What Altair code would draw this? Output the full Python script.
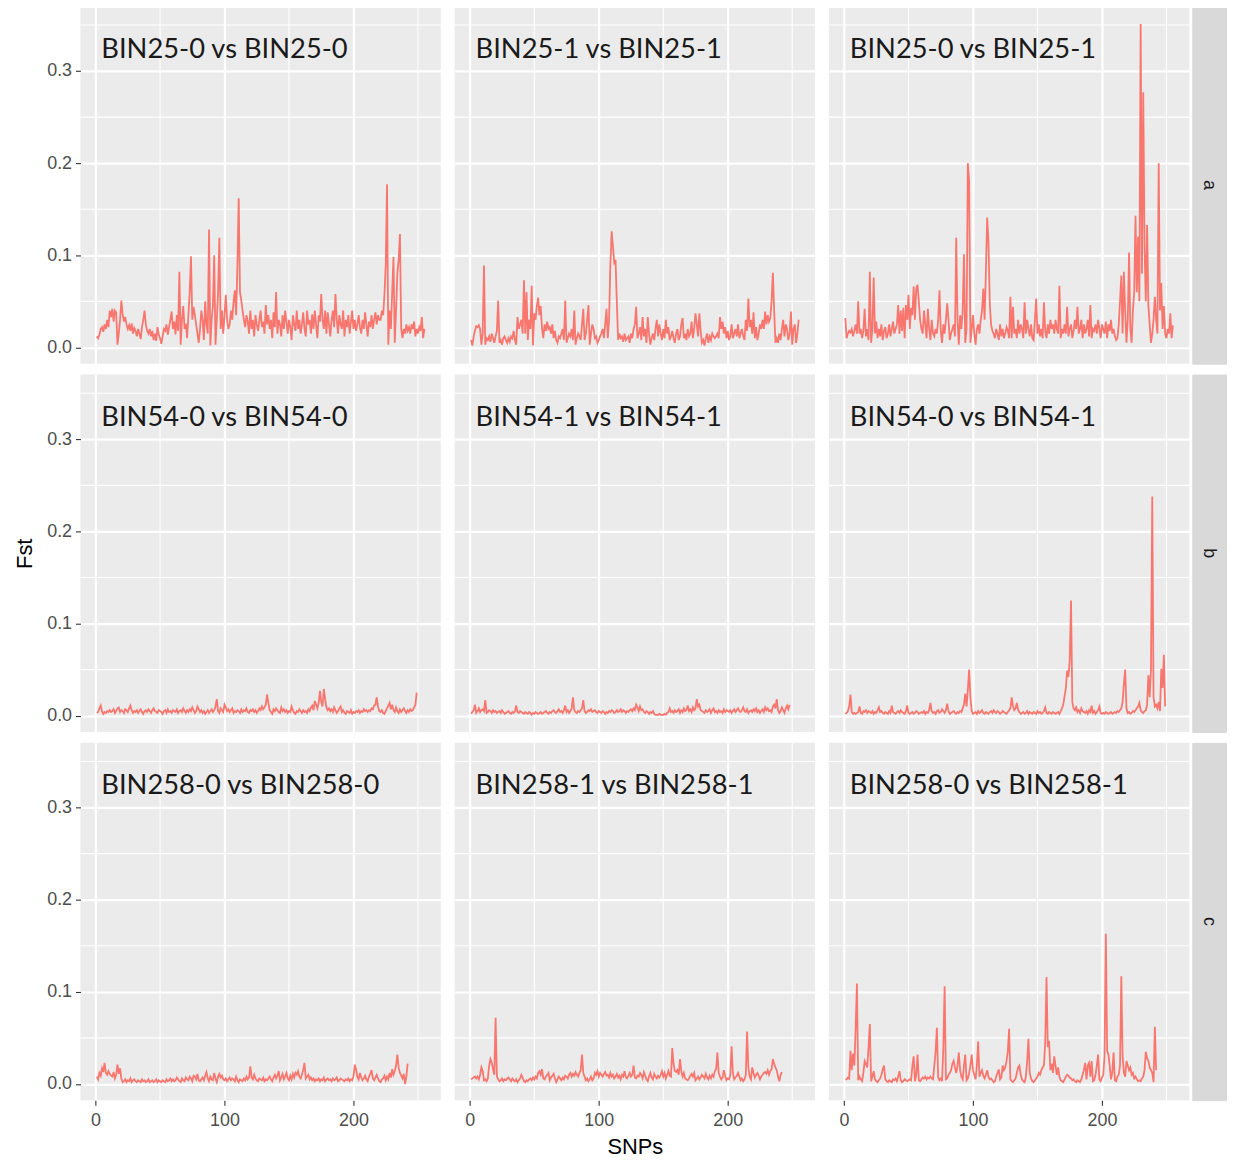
import altair as alt
import pandas as pd

# ---------------- data (Fst values, in thousandths) ----------------
row_labels = ["a", "b", "c"]
panel_titles = [
    ["BIN25-0 vs BIN25-0", "BIN25-1 vs BIN25-1", "BIN25-0 vs BIN25-1"],
    ["BIN54-0 vs BIN54-0", "BIN54-1 vs BIN54-1", "BIN54-0 vs BIN54-1"],
    ["BIN258-0 vs BIN258-0", "BIN258-1 vs BIN258-1", "BIN258-0 vs BIN258-1"],
]

fst_a1 = [
    12, 10, 14, 20, 22, 17, 25, 20, 30, 22,
    40, 33, 42, 28, 40, 38, 3, 15, 30, 51,
    36, 28, 33, 25, 20, 24, 18, 26, 15, 21,
    18, 12, 20, 15, 9, 22, 30, 40, 25, 18,
    15, 20, 12, 18, 8, 15, 7, 22, 14, 10,
    4, 12, 20, 18, 25, 14, 22, 30, 39, 20,
    28, 14, 35, 18, 82, 3, 30, 45, 20, 26,
    10, 35, 60, 99, 30, 44, 35, 25, 15, 5,
    20, 40, 30, 8, 50, 25, 15,
    128, 2, 30, 45, 100, 3, 30, 60, 119, 20, 40, 15, 35,
    57, 30, 20, 25, 40, 30, 50, 62, 35, 90, 162, 60, 51, 40, 30,
    22, 35, 28, 15, 40, 20, 30, 12, 35, 25, 18, 30, 40, 22, 28,
    15, 46, 25, 35, 20, 30, 10, 38, 22, 60, 15, 30, 25, 12, 35,
    20, 40, 28, 15, 30, 22, 8, 35, 25, 18, 40, 20, 30, 15, 25,
    38, 20, 12, 40, 25, 30, 15, 36, 20, 40, 25, 10, 35, 28, 58,
    30, 20, 40, 15, 38, 25, 12, 30, 40, 22, 58, 30, 15, 35, 25,
    20, 40, 12, 30, 22, 35, 15, 28, 40, 20, 30, 18, 25, 35, 22,
    15, 30, 20, 38, 25, 12, 28, 22, 35, 20, 30, 38, 25, 35, 30,
    30, 40, 35, 57, 90, 177, 3, 40, 20, 60, 98, 5, 40, 80, 95, 123, 20, 10, 20, 15,
    25, 18, 22, 15, 25, 20, 28, 12, 20, 15, 22, 18, 33, 10, 20,
]

fst_a2 = [
    8, 2, 12, 18, 23, 22, 24, 20, 3, 15,
    89, 3, 10, 8, 12, 6, 15, 10, 5, 12,
    18, 51, 5, 8, 3, 10, 12, 8, 5, 10,
    6, 12, 10, 18, 8, 3, 33, 20, 25, 30,
    15, 73, 15, 60, 8, 30, 20, 67, 2, 37,
    30, 45, 54, 35, 45, 20, 10, 25, 18, 28,
    20, 22, 15, 25, 10, 18, 8, 5, 12, 10,
    15, 20, 8, 51, 5, 10, 15, 12, 20, 8,
    40, 3, 10, 15, 12, 8, 25, 42, 8, 15,
    30, 46, 3, 15, 25, 20, 10, 12, 5, 8,
    12, 15, 20, 10, 25, 42, 10, 30, 90, 126,
    110, 92, 95, 50, 8, 15, 10, 12, 6, 15,
    8, 10, 12, 5, 15, 10, 20, 25, 44, 10,
    15, 22, 8, 33, 12, 20, 5, 33, 15, 3,
    10, 15, 8, 20, 30, 12, 25, 15, 8, 20,
    10, 30, 15, 22, 8, 12, 18, 10, 5, 15,
    20, 8, 12, 25, 32, 10, 15, 8, 20, 12,
    15, 28, 10, 20, 37, 25, 12, 37, 18, 5,
    8, 2, 10, 15, 5, 12, 8, 15, 12, 10,
    12, 15, 10, 33, 20, 28, 15, 22, 10, 18,
    8, 12, 25, 10, 15, 20, 12, 25, 10, 15,
    20, 12, 8, 30, 18, 53, 22, 30, 15, 38,
    10, 22, 8, 15, 25, 20, 30, 20, 39, 25,
    35, 28, 32, 50, 81, 40, 5, 10, 5, 15,
    8, 20, 30, 12, 25, 20, 8, 15, 39, 3,
    20, 25, 5, 15, 30,
]

fst_a3 = [
    32, 10, 15, 18, 16, 20, 12, 18, 25, 15,
    50, 15, 20, 10, 18, 42, 12, 20, 8, 82,
    5, 20, 76, 15, 28, 10, 20, 12, 25, 8,
    18, 22, 10, 15, 25, 12, 20, 28, 15, 20,
    25, 46, 15, 40, 18, 43, 10, 46, 30, 57,
    20, 43, 35, 66, 30, 64, 68, 50, 30, 20,
    15, 40, 25, 10, 42, 20, 8, 30, 15, 12,
    20, 15, 30, 62, 18, 5, 25, 15, 30, 48,
    30, 8, 15, 20, 25, 12, 119, 30, 3, 35,
    20, 40, 101, 5, 20, 200, 180, 5, 20, 35,
    15, 3, 20, 25, 15, 30, 40, 64, 30, 82,
    141, 115, 49, 25, 18, 15, 10, 20, 15, 8,
    25, 12, 20, 10, 15, 22, 18, 10, 55, 10,
    44, 15, 20, 10, 30, 15, 25, 20, 10, 49,
    15, 30, 20, 12, 25, 10, 8, 30, 53, 15,
    25, 12, 20, 10, 49, 18, 10, 25, 15, 30,
    20, 25, 15, 30, 20, 15, 67, 10, 20, 15,
    25, 15, 44, 12, 20, 25, 10, 18, 30, 20,
    44, 15, 20, 30, 10, 25, 15, 20, 30, 12,
    46, 10, 20, 18, 25, 15, 30, 20, 10, 25,
    20, 15, 28, 10, 25, 18, 30, 15, 20, 12,
    8, 10, 25, 50, 78, 15, 82, 40, 5, 30,
    103, 20, 5, 40, 60, 143, 60, 120, 50, 351,
    80, 277, 110, 50, 133, 45, 25, 5, 15, 30,
    55, 30, 15, 200, 40, 70, 20, 45, 15, 10,
    20, 15, 37, 10, 24,
]

fst_b1 = [
    3, 4, 8, 11, 5, 2, 4, 3, 5, 4,
    6, 4, 5, 7, 3, 5, 8, 9, 4, 6,
    5, 3, 7, 6, 4, 8, 11, 6, 3, 5,
    4, 6, 3, 5, 7, 4, 2, 5, 6, 4,
    7, 5, 3, 6, 8, 5, 4, 3, 6, 5,
    4, 2, 5, 6, 3, 7, 4, 5, 3, 6,
    5, 4, 7, 3, 5, 6, 4, 8, 5, 3,
    6, 4, 7, 5, 9, 6, 3, 5, 10, 7,
    4, 6, 3, 5, 2, 4, 6, 3, 5, 7,
    4, 6, 10, 18, 5, 3, 8, 6, 4, 12,
    9, 5, 7, 4, 6, 8, 3, 5, 4, 6,
    5, 3, 7, 4, 6, 5, 8, 4, 3, 6,
    5, 7, 4, 6, 3, 5, 8, 6, 10, 7,
    9, 12, 23, 14, 6, 4, 2, 7, 5, 8,
    6, 4, 3, 9, 5, 7, 4, 6, 3, 5,
    4, 10, 6, 3, 2, 5, 4, 7, 5, 3,
    6, 4, 5, 3, 7, 5, 9, 11, 6, 16,
    12, 8, 14, 27, 15, 10, 29, 18, 9, 6,
    8, 5, 7, 4, 9, 6, 3, 5, 8, 10,
    4, 6, 3, 2, 5, 4, 3, 6, 2, 4,
    3, 5, 4, 6, 3, 5, 4, 7, 5, 6,
    4, 6, 5, 8, 7, 11, 12, 20, 10, 5,
    4, 6, 3, 2, 5, 8, 11, 14, 7, 12,
    6, 4, 9, 5, 3, 7, 4, 6, 8, 5,
    3, 6, 4, 7, 5, 6, 9, 12, 25,
]

fst_b2 = [
    2, 4, 6, 12, 3, 5, 8, 4, 6, 7,
    5, 17, 3, 4, 6, 5, 3, 6, 4, 5,
    3, 4, 5, 3, 6, 4, 2, 3, 4, 5,
    3, 2, 4, 3, 5, 11, 4, 3, 5, 4,
    3, 2, 4, 3, 2, 4, 3, 1, 3, 2,
    4, 3, 2, 3, 4, 2, 3, 4, 5, 3,
    2, 4, 3, 5, 6, 4, 3, 5, 7, 4,
    5, 3, 6, 11, 4, 6, 3, 5, 8, 20,
    6, 4, 3, 5, 4, 6, 8, 17, 5, 3,
    4, 6, 5, 7, 4, 5, 6, 4, 3, 5,
    4, 3, 5, 4, 2, 4, 3, 5, 4, 6,
    5, 3, 4, 6, 4, 5, 7, 4, 6, 5,
    3, 5, 4, 6, 7, 5, 8, 6, 12, 9,
    5, 10, 6, 7, 4, 3, 5, 4, 2, 4,
    3, 5, 2, 1, 1, 1, 2, 1, 1, 1,
    2, 1, 3, 4, 8, 4, 5, 3, 6, 4,
    5, 7, 3, 6, 4, 8, 5, 6, 11, 5,
    7, 4, 9, 6, 8, 18, 10, 12, 6, 5,
    4, 3, 6, 4, 5, 7, 3, 6, 8, 4,
    5, 3, 6, 4, 5, 3, 7, 4, 6, 5,
    4, 6, 3, 5, 7, 4, 6, 8, 5, 4,
    6, 9, 5, 4, 7, 3, 5, 6, 4, 7,
    5, 8, 4, 6, 3, 5, 7, 4, 9, 6,
    8, 5, 6, 4, 10, 12, 8, 18, 6, 3,
    5, 9, 6, 3, 8, 11, 7, 12,
]

fst_b3 = [
    2, 3, 5, 10, 23, 4, 2, 3, 2, 3,
    4, 10, 3, 2, 5, 4, 6, 3, 5, 4,
    3, 5, 2, 4, 3, 6, 9, 4, 5, 3,
    2, 4, 3, 2, 5, 3, 11, 4, 3, 2,
    4, 5, 3, 6, 4, 3, 2, 5, 11, 3,
    2, 3, 4, 2, 3, 5, 4, 2, 3, 4,
    3, 5, 2, 4, 3, 6, 14, 5, 3, 4,
    2, 5, 6, 3, 4, 7, 5, 3, 6, 13,
    5, 2, 3, 4, 5, 3, 2, 4, 3, 5,
    4, 8, 12, 24, 10, 28, 50, 20, 5, 2,
    3, 4, 2, 5, 3, 4, 6, 3, 2, 4,
    3, 2, 4, 5, 3, 6, 4, 3, 5, 4,
    2, 3, 5, 4, 3, 2, 4, 6, 8, 20,
    10, 6, 8, 14, 6, 4, 2, 3, 4, 2,
    3, 5, 2, 4, 3, 2, 4, 3, 2, 5,
    3, 4, 2, 3, 5, 9, 3, 2, 4, 3,
    2, 4, 3, 2, 3, 4, 2, 5, 8, 12,
    21, 30, 49, 42, 60, 125, 15, 8, 6, 9,
    4, 6, 3, 8, 5, 4, 3, 5, 2, 6,
    4, 11, 3, 5, 2, 4, 6, 10, 3, 2,
    3, 2, 4, 3, 2, 3, 4, 2, 3, 4,
    3, 5, 4, 6, 8, 15, 35, 50, 8, 3,
    4, 2, 3, 5, 4, 6, 8, 10, 14, 6,
    4, 3, 5, 6, 12, 44, 20, 50, 238, 20,
    10, 12, 8, 15, 5, 51, 30, 66, 10,
]

fst_c1 = [
    8, 5, 12, 9, 17, 13, 23, 12, 10, 14,
    11, 9, 8, 13, 6, 10, 21, 11, 17, 6,
    2, 3, 5, 2, 4, 3, 6, 2, 4, 5,
    3, 2, 4, 3, 2, 5, 3, 4, 2, 3,
    5, 2, 3, 4, 2, 3, 5, 2, 4, 3,
    2, 4, 3, 2, 5, 3, 4, 6, 3, 5,
    3, 4, 7, 5, 3, 2, 6, 4, 3, 7,
    5, 4, 8, 6, 3, 9, 8, 5, 11, 4,
    3, 5, 7, 4, 9, 13, 6, 3, 8, 5,
    4, 12, 6, 2, 8, 11, 7, 9, 5, 4,
    6, 3, 5, 7, 4, 6, 5, 3, 8, 4,
    2, 5, 4, 3, 6, 4, 8, 5, 7, 19,
    7, 5, 10, 6, 4, 3, 6, 5, 4, 7,
    3, 5, 4, 6, 8, 5, 3, 7, 10, 6,
    9, 14, 4, 7, 11, 5, 8, 12, 6, 4,
    9, 5, 11, 7, 12, 10, 14, 8, 6, 10,
    15, 23, 6, 8, 10, 5, 7, 4, 6, 3,
    5, 4, 6, 3, 5, 4, 7, 3, 5, 6,
    4, 5, 3, 6, 4, 5, 7, 3, 4, 6,
    5, 4, 3, 5, 4, 6, 3, 5, 4, 8,
    21, 16, 8, 5, 12, 7, 4, 6, 9, 5,
    3, 8, 11, 15, 6, 4, 7, 10, 6, 3,
    2, 5, 6, 9, 4, 8, 5, 12, 7, 16,
    10, 14, 20, 32, 18, 12, 9, 6, 11, 0, 8, 22,
]

fst_c2 = [
    5, 6, 7, 8, 6, 8, 5, 10, 18, 14,
    4, 5, 3, 6, 20, 27, 23, 16, 10, 72,
    8, 5, 3, 4, 6, 3, 5, 4, 6, 7,
    5, 3, 6, 4, 3, 5, 2, 4, 6, 10,
    7, 3, 2, 4, 3, 5, 6, 4, 7, 5,
    8, 6, 12, 14, 10, 16, 6, 5, 8, 10,
    12, 4, 7, 9, 11, 6, 2, 5, 8, 6,
    4, 7, 5, 9, 8, 6, 10, 12, 8, 11,
    9, 13, 10, 8, 12, 15, 32, 12, 8, 4,
    6, 3, 5, 8, 4, 6, 12, 10, 14, 8,
    12, 10, 8, 11, 13, 9, 10, 7, 12, 8,
    10, 6, 8, 11, 7, 9, 5, 10, 8, 14,
    7, 6, 9, 12, 8, 10, 20, 7, 6, 9,
    8, 12, 10, 6, 13, 9, 5, 3, 8, 12,
    7, 5, 11, 8, 6, 9, 7, 10, 14, 8,
    12, 6, 10, 14, 9, 8, 39, 22, 14, 13,
    15, 10, 27, 14, 8, 12, 6, 5, 4, 6,
    9, 11, 8, 12, 4, 6, 8, 5, 7, 10,
    8, 6, 11, 7, 5, 9, 6, 10, 8, 14,
    16, 34, 12, 8, 5, 7, 15, 9, 4, 6,
    5, 10, 41, 12, 5, 7, 9, 12, 8, 4,
    6, 3, 5, 10, 57, 18, 8, 5, 18, 12,
    7, 10, 12, 9, 5, 8, 10, 12, 13, 11,
    15, 10, 14, 16, 27, 22, 18, 15, 8, 3,
    10, 13,
]

fst_c3 = [
    5, 5, 7, 6, 36, 15, 33, 20, 60, 109,
    4, 8, 5, 3, 12, 25, 22, 18, 40, 65,
    3, 8, 14, 5, 3, 2, 4, 6, 10, 16,
    20, 5, 3, 2, 4, 3, 2, 5, 4, 6,
    3, 8, 14, 4, 2, 3, 5, 4, 3, 4,
    5, 4, 20, 30, 3, 10, 32, 4, 3, 5,
    7, 6, 8, 5, 7, 6, 8, 6, 5, 20,
    35, 61, 7, 4, 6, 3, 40, 106, 5, 6,
    10, 12, 15, 22, 25, 18, 12, 20, 34, 15,
    8, 5, 20, 32, 4, 6, 12, 20, 32, 15,
    10, 5, 20, 46, 8, 12, 15, 9, 6, 10,
    15, 8, 5, 6, 4, 2, 3, 8, 12, 16,
    5, 7, 20, 15, 18, 25, 35, 60, 5, 3,
    2, 4, 6, 12, 18, 20, 10, 5, 3, 2,
    8, 25, 49, 12, 6, 3, 2, 4, 6, 8,
    12, 10, 15, 18, 20, 45, 116, 40, 47, 15,
    22, 12, 30, 20, 10, 18, 8, 4, 3, 2,
    5, 8, 10, 9, 7, 6, 4, 5, 3, 2,
    4, 3, 2, 5, 10, 15, 23, 5, 20, 23,
    8, 25, 3, 4, 10, 20, 32, 5, 3, 7,
    10, 30, 163, 36, 32, 20, 5, 12, 34, 4,
    3, 8, 10, 20, 117, 30, 12, 8, 25, 20,
    15, 18, 10, 12, 6, 8, 5, 3, 4, 3,
    6, 8, 15, 35, 28, 25, 18, 15, 12, 2, 62, 15,
]

series = [
    [fst_a1, fst_a2, fst_a3],
    [fst_b1, fst_b2, fst_b3],
    [fst_c1, fst_c2, fst_c3],
]

x_ticks = [0, 100, 200]
x_minor = [50, 150, 250]
y_ticks = [0.0, 0.1, 0.2, 0.3]
y_minor = [0.05, 0.15, 0.25, 0.35]

# ---------------- styling ----------------
PANEL_W = 363
PANEL_H = 360
STRIP_W = 34
LINE_COLOR = "#F8766D"
AX_FONT = "Liberation Sans"

x_scale = alt.Scale(domain=[-11.7, 267.7], nice=False, zero=False)
y_scale = alt.Scale(domain=[-0.0176, 0.3703], nice=False, zero=False)


def make_x_axis(show_labels, title):
    kw = dict(
        values=x_ticks, grid=True, gridColor="white", gridWidth=2.2,
        domain=False, labels=show_labels, ticks=show_labels,
        tickColor="#333333", tickSize=5, tickWidth=1.1,
        labelColor="#4D4D4D", labelFontSize=18, labelFont=AX_FONT, labelPadding=6,
        titleFont=AX_FONT, titleFontSize=22, titleFontWeight="normal",
        titleColor="#000000", titlePadding=8, zindex=0,
    )
    kw["title"] = title
    return alt.Axis(**kw)


def make_y_axis(show_labels, title):
    kw = dict(
        values=y_ticks, grid=True, gridColor="white", gridWidth=2.2,
        domain=False, labels=show_labels, ticks=show_labels, format=".1f",
        tickColor="#333333", tickSize=5, tickWidth=1.1,
        labelColor="#4D4D4D", labelFontSize=18, labelFont=AX_FONT, labelPadding=4,
        titleFont=AX_FONT, titleFontSize=22, titleFontWeight="normal",
        titleColor="#000000", titlePadding=10, zindex=0,
    )
    kw["title"] = title
    return alt.Axis(**kw)


def panel(values, title_text, r, c):
    df = pd.DataFrame({
        "SNP": list(range(1, len(values) + 1)),
        "Fst": [v / 1000 for v in values],
    })
    show_x = r == 2
    show_y = c == 0
    x_title = "SNPs" if (r == 2 and c == 1) else None
    if c == 0:
        y_title = "Fst" if r == 1 else " "
    else:
        y_title = None
    xa = make_x_axis(show_x, x_title)
    ya = make_y_axis(show_y, y_title)

    minor_v = alt.Chart(pd.DataFrame({"SNP": x_minor})).mark_rule(
        color="white", strokeWidth=1.1
    ).encode(x=alt.X("SNP:Q", scale=x_scale, axis=xa))
    minor_h = alt.Chart(pd.DataFrame({"Fst": y_minor})).mark_rule(
        color="white", strokeWidth=1.1
    ).encode(y=alt.Y("Fst:Q", scale=y_scale, axis=ya))
    line = alt.Chart(df).mark_line(color=LINE_COLOR, strokeWidth=1.8).encode(
        x=alt.X("SNP:Q", scale=x_scale, axis=xa),
        y=alt.Y("Fst:Q", scale=y_scale, axis=ya),
    )
    label = alt.Chart(pd.DataFrame({"label": [title_text]})).mark_text(
        align="left", baseline="alphabetic",
        font="Lato", fontSize=27.5, color="#1A1A1A",
    ).encode(text="label:N", x=alt.value(21), y=alt.value(52))
    return alt.layer(minor_v, minor_h, line, label).properties(
        width=PANEL_W, height=PANEL_H,
    )


def strip(label):
    return alt.Chart(pd.DataFrame({"strip": [label]})).mark_text(
        angle=90, fontSize=18, font=AX_FONT, color="#1A1A1A"
    ).encode(text="strip:N").properties(
        width=STRIP_W, height=PANEL_H,
        view=alt.ViewBackground(fill="#D9D9D9", stroke="#D9D9D9"),
    )


rows = []
for r in range(3):
    p = [panel(series[r][c], panel_titles[r][c], r, c) for c in range(3)]
    rows.append(
        alt.hconcat(p[0], p[1], alt.hconcat(p[2], strip(row_labels[r]), spacing=1), spacing=12)
    )

chart = alt.vconcat(*rows, spacing=9).properties(
    padding={"left": 5, "top": -7, "right": 0, "bottom": 0},
    background="white",
).configure_view(fill="#EBEBEB", stroke=None)

chart.save("out.html", embed_options={"renderer": "svg", "actions": False})
